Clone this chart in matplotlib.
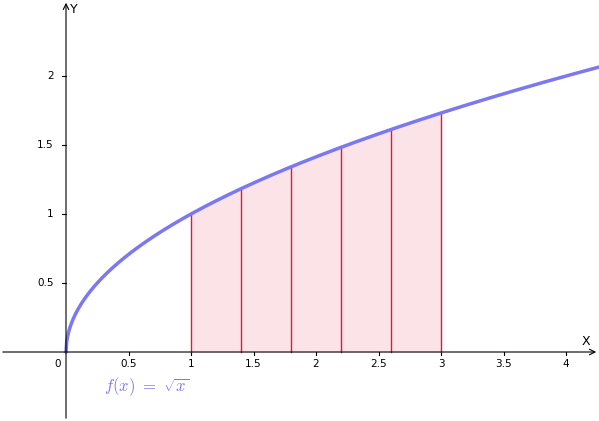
import matplotlib.pyplot as plt
import numpy as np

plt.rcParams["mathtext.fontset"] = "cm"

# partition points of the shaded region
partition = [1.0, 1.4, 1.8, 2.2, 2.6, 3.0]
x_ticks = [0.5, 1, 1.5, 2, 2.5, 3, 3.5, 4]
x_tick_labels = ["0.5", "1", "1.5", "2", "2.5", "3", "3.5", "4"]
y_ticks = [0.5, 1, 1.5, 2]
y_tick_labels = ["0.5", "1", "1.5", "2"]

fig = plt.figure(figsize=(5.99, 4.21), dpi=100)
ax = fig.add_axes([0, 0, 1, 1])
ax.set_xlim(-0.528, 4.264)
ax.set_ylim(-0.5, 2.551)
ax.axis("off")

# axes with arrows
ax.annotate("", xy=(4.264, 0), xytext=(-0.528, 0),
            arrowprops=dict(arrowstyle="->", color="black", lw=0.8))
ax.annotate("", xy=(0, 2.551), xytext=(0, -0.5),
            arrowprops=dict(arrowstyle="->", color="black", lw=0.8))
ax.text(4.16, 0.03, "X", fontsize=9, ha="center", va="bottom")
ax.text(0.03, 2.48, "Y", fontsize=9, ha="left", va="center")

for t, lab in zip(x_ticks, x_tick_labels):
    ax.plot([t, t], [0, -0.025], color="black", lw=0.8)
    ax.text(t, -0.05, lab, fontsize=7.5, ha="center", va="top")
ax.text(-0.07, -0.05, "0", fontsize=7.5, ha="center", va="top")
for t, lab in zip(y_ticks, y_tick_labels):
    ax.plot([0, -0.03], [t, t], color="black", lw=0.8)
    ax.text(-0.1, t, lab, fontsize=7.5, ha="right", va="center")

# shaded region under the curve
xs = np.linspace(partition[0], partition[-1], 300)
ax.fill_between(xs, 0, np.sqrt(xs), color="#fbe3e8", lw=0)
for p in partition:
    ax.plot([p, p], [0, np.sqrt(p)], color="#e8143c", lw=1)

# function curve
xc = np.linspace(0, 4.264, 800)
ax.plot(xc, np.sqrt(xc), color="#7b78f0", lw=2.5, solid_capstyle="round")

ax.text(0.3, -0.25, r"$f(x)\ =\ \sqrt{x}$", fontsize=12, color="#7b78f0",
        ha="left", va="center")

fig.savefig("out.png", dpi=100)
